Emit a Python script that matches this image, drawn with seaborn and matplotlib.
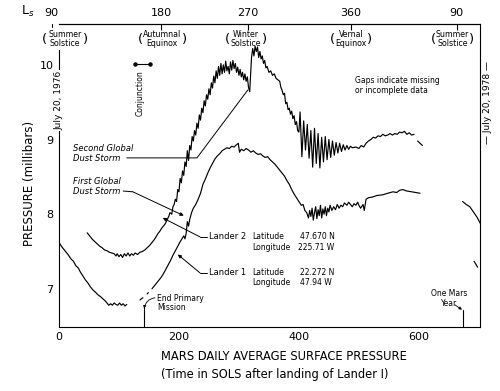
import numpy as np
import pandas as pd
import matplotlib
matplotlib.use("Agg")
import matplotlib.pyplot as plt
import matplotlib.transforms as mtransforms
import seaborn as sns

# ---------------------------------------------------------------
# Daily average pressure (mbar) vs sol after landing of Lander 1
# values
# ---------------------------------------------------------------
# Lander 1 - before the gap
l1_sol_a = [0, 5, 10, 15, 20, 24, 28, 32, 36, 40, 44, 48, 52, 56, 60, 65,
            70, 74, 77, 80, 83, 86, 89, 92, 95, 98, 101, 104, 107, 110, 113]
l1_p_a = [7.62, 7.56, 7.51, 7.46, 7.40, 7.37, 7.31, 7.28, 7.22, 7.17, 7.12,
          7.08, 7.03, 6.99, 6.96, 6.92, 6.89, 6.86, 6.84, 6.81, 6.78, 6.80,
          6.78, 6.81, 6.79, 6.78, 6.81, 6.78, 6.80, 6.77, 6.79]
# Lander 1 - sparse data after conjunction
l1_sol_b1 = [135, 138, 140]
l1_p_b1 = [6.85, 6.87, 6.88]
l1_sol_b2 = [147, 149]
l1_p_b2 = [6.93, 6.95]
# Lander 1 - main record
l1_sol_c = [155, 160, 165, 170, 174, 178, 182, 186, 190, 194,
            198, 202, 205, 208, 210, 212, 214, 216, 218, 221,
            224, 228, 232, 236, 240, 244, 248, 252, 256, 260,
            264, 268, 272, 276, 280, 284, 288, 292, 296, 299,
            301, 304, 308, 312, 316, 320, 324, 328, 332, 336,
            340, 344, 348, 352, 356, 360, 364, 368, 372, 376,
            380, 384, 388, 392, 396, 400, 404, 407, 410, 413,
            416, 418, 420, 422, 424, 426, 428, 430, 432, 434,
            436, 438, 440, 442, 444, 446, 448, 450, 452, 455,
            458, 461, 464, 467, 470, 473, 476, 480, 483, 486,
            489, 492, 495, 498, 500, 503, 507, 509, 512, 516,
            523, 530, 540, 548, 557, 563, 568, 573, 580, 588,
            595, 602]
l1_p_c = [7.00, 7.05, 7.10, 7.15, 7.20, 7.26, 7.32, 7.38, 7.45, 7.51,
          7.57, 7.63, 7.67, 7.71, 7.67, 7.74, 7.90, 7.84, 7.93, 8.02,
          8.08, 8.13, 8.20, 8.28, 8.40, 8.47, 8.55, 8.62, 8.68, 8.74,
          8.78, 8.81, 8.85, 8.87, 8.89, 8.88, 8.91, 8.90, 8.93, 8.95,
          8.83, 8.87, 8.85, 8.88, 8.86, 8.83, 8.85, 8.82, 8.80, 8.81,
          8.78, 8.76, 8.77, 8.73, 8.70, 8.67, 8.63, 8.59, 8.55, 8.51,
          8.45, 8.40, 8.33, 8.27, 8.22, 8.17, 8.12, 8.13, 8.05, 8.02,
          7.95, 8.05, 7.97, 8.08, 7.92, 8.02, 8.10, 7.94, 8.06, 7.98,
          8.12, 7.95, 8.07, 8.00, 8.10, 7.98, 8.08, 8.03, 8.12, 8.05,
          8.10, 8.06, 8.13, 8.08, 8.12, 8.10, 8.15, 8.12, 8.16, 8.13,
          8.10, 8.14, 8.12, 8.16, 8.12, 8.08, 8.13, 8.05, 8.20, 8.22,
          8.23, 8.25, 8.26, 8.28, 8.30, 8.29, 8.32, 8.33, 8.31, 8.30,
          8.29, 8.28]
# Lander 1 - second year
l1_sol_d = [692, 695, 698]
l1_p_d = [7.37, 7.33, 7.29]

# Lander 2 - main record, by phase
l2_sol_pre = [47, 52, 56, 60, 64, 68, 72, 76, 80, 84,
              88, 92, 95, 97, 100, 103, 106, 109, 112, 115,
              118, 121, 124, 127, 131, 135, 139, 143, 147, 151,
              155, 159, 162, 165, 168, 171, 174, 177, 180, 183]
l2_p_pre = [7.75, 7.70, 7.66, 7.63, 7.60, 7.57, 7.55, 7.52, 7.51, 7.49,
            7.48, 7.47, 7.44, 7.47, 7.43, 7.46, 7.42, 7.47, 7.44, 7.48,
            7.44, 7.47, 7.45, 7.48, 7.46, 7.49, 7.50, 7.52, 7.55, 7.58,
            7.62, 7.66, 7.70, 7.74, 7.77, 7.81, 7.84, 7.87, 7.92, 7.97]
l2_sol_rise = [185, 188, 190, 192, 194, 196, 198, 200, 202, 204,
               206, 208, 210, 212, 214, 216, 218, 220, 222, 224,
               226, 228, 230, 232, 234, 236, 238, 240, 242, 244,
               246, 248, 250, 252, 254, 256, 258, 260, 262, 264,
               266, 268, 270, 272, 274, 276, 278, 280, 282, 284,
               286, 288, 290, 292, 294, 296, 298, 300, 302, 304,
               306, 308, 310, 312, 314, 316, 318]
l2_p_rise = [8.02, 8.00, 8.10, 8.13, 8.20, 8.17, 8.33, 8.30, 8.48, 8.42,
             8.58, 8.52, 8.70, 8.64, 8.85, 8.72, 8.92, 8.86, 9.04, 8.98,
             9.12, 9.06, 9.22, 9.15, 9.33, 9.26, 9.42, 9.36, 9.52, 9.45,
             9.60, 9.54, 9.68, 9.60, 9.76, 9.69, 9.85, 9.76, 9.92, 9.82,
             9.98, 9.86, 10.02, 9.88, 10.00, 9.90, 10.05, 9.92, 9.98, 9.88,
             10.04, 9.93, 10.06, 9.95, 10.02, 9.90, 9.97, 9.86, 9.94, 9.84,
             9.90, 9.80, 9.88, 9.78, 9.84, 9.70, 9.64]
l2_sol_peak = [321, 323, 325, 327, 329, 331, 333, 335, 337, 339,
               341, 343, 345, 347, 350, 353, 356, 359, 362, 365,
               368, 370, 372, 374, 376, 378, 380, 382, 384, 386,
               388, 390, 392, 394, 396, 398]
l2_p_peak = [10.10, 10.22, 10.12, 10.25, 10.18, 10.24, 10.10, 10.18, 10.08, 10.12,
             10.02, 10.06, 9.96, 9.98, 9.90, 9.92, 9.86, 9.88, 9.82, 9.80,
             9.78, 9.70, 9.66, 9.60, 9.62, 9.48, 9.50, 9.40, 9.42, 9.34,
             9.38, 9.28, 9.32, 9.20, 9.24, 9.12]
l2_sol_osc = [400, 402, 405, 408, 411, 414, 417, 420, 423, 426,
              429, 432, 435, 438, 441, 444, 447, 450, 453, 456,
              459, 462, 465, 468, 471, 474, 477, 480, 483, 486,
              489]
l2_p_osc = [9.10, 9.37, 8.77, 9.25, 8.86, 9.20, 8.75, 9.12, 8.63, 9.15,
            8.68, 9.08, 8.62, 9.03, 8.70, 9.04, 8.73, 9.00, 8.76, 8.98,
            8.79, 8.96, 8.82, 8.95, 8.84, 8.93, 8.86, 8.92, 8.87, 8.91,
            8.89]
l2_sol_late = [495, 500, 504, 508, 512, 516, 520, 524, 528, 532,
               536, 540, 544, 548, 552, 556, 560, 564, 568, 572,
               576, 580, 584, 588, 592]
l2_p_late = [8.90, 8.88, 8.92, 8.90, 8.95, 8.98, 9.00, 9.03, 9.02, 9.05,
             9.04, 9.07, 9.05, 9.06, 9.08, 9.06, 9.08, 9.07, 9.10, 9.09,
             9.11, 9.07, 9.09, 9.06, 9.07]
l2_sol_b = [598, 602, 606]
l2_p_b = [8.98, 8.95, 8.92]
l2_sol_c = [673, 679, 685, 691, 697, 703]
l2_p_c = [8.17, 8.13, 8.10, 8.03, 7.96, 7.87]

# ---------------------------------------------------------------
# tidy table, one id per unbroken piece of record
# ---------------------------------------------------------------
pieces = {
    "L1a": (l1_sol_a, l1_p_a),
    "L1b1": (l1_sol_b1, l1_p_b1),
    "L1b2": (l1_sol_b2, l1_p_b2),
    "L1c": (l1_sol_c, l1_p_c),
    "L1d": (l1_sol_d, l1_p_d),
    "L2a": (l2_sol_pre + l2_sol_rise + l2_sol_peak + l2_sol_osc + l2_sol_late,
            l2_p_pre + l2_p_rise + l2_p_peak + l2_p_osc + l2_p_late),
    "L2b": (l2_sol_b, l2_p_b),
    "L2c": (l2_sol_c, l2_p_c),
}
frames = []
for key, (s, p) in pieces.items():
    assert len(s) == len(p), key
    frames.append(pd.DataFrame({"sol": s, "pressure": p, "segment": key}))
df = pd.concat(frames, ignore_index=True)

# ---------------------------------------------------------------
# figure
# ---------------------------------------------------------------
sns.set_style("white")
plt.rcParams["font.family"] = ["DejaVu Sans"]
plt.rcParams["text.color"] = "black"
plt.rcParams["xtick.color"] = "black"
plt.rcParams["ytick.color"] = "black"
plt.rcParams["axes.labelcolor"] = "black"

fig = plt.figure(figsize=(5.0, 3.91), dpi=100)
ax = fig.add_axes([0.118, 0.164, 0.842, 0.775])

sns.lineplot(data=df, x="sol", y="pressure", units="segment", estimator=None,
             sort=False, color="black", linewidth=0.85, ax=ax, legend=False)

ax.set_xlim(0, 702)
ax.set_ylim(6.49, 10.55)
ax.set_xlabel("")
ax.set_ylabel("")

ax.set_xticks([0, 200, 400, 600])
ax.set_xticks([100, 300, 500], minor=True)
ax.set_yticks([7, 8, 9, 10])
ax.set_yticks([7.5, 8.5, 9.5], minor=True)
ax.tick_params(which="both", direction="in", width=0.8, color="black", labelcolor="black")
ax.tick_params(axis="x", which="both", length=9.5, labelsize=8, pad=4)
ax.tick_params(axis="y", which="both", length=8.5, labelsize=8, pad=4)
ax.tick_params(top=False, right=False)

for sp in ax.spines.values():
    sp.set_linewidth(0.8)
    sp.set_color("black")
ax.spines["left"].set_bounds(6.49, 10.2)
ax.spines["right"].set_linestyle((0, (3, 1)))

# Ls scale along the top
ls_ax = ax.secondary_xaxis("top")
ls_ax.set_xticks([170, 315, 487, 663], labels=["180", "270", "360", "90"])
ls_ax.tick_params(direction="in", length=4, width=0.8, labelsize=8, pad=4,
                  color="black", labelcolor="black")
ls_ax.spines["top"].set_linestyle((0, (5, 1)))
ls_ax.spines["top"].set_linewidth(0.8)
ls_ax.spines["top"].set_color("black")

top_tr = mtransforms.blended_transform_factory(ax.transData, ax.transAxes)
ax.text(-12, 1.036, "90", transform=top_tr, ha="center", va="center", fontsize=8)
ax.plot([-12, -12], [1.0, 0.99], transform=top_tr, color="black", lw=0.8, clip_on=False)
ax.text(-0.075, 1.04, "L$_s$", transform=ax.transAxes, ha="center", va="center", fontsize=9)

seasons = [(10, "Summer\nSolstice", 14.8), (172, "Autumnal\nEquinox", 15.8),
           (312, "Winter\nSolstice", 13.3), (487.5, "Vernal\nEquinox", 13.3),
           (656, "Summer\nSolstice", 14.0)]
for xs, name, hw in seasons:
    ax.text(xs, 0.95, name, transform=top_tr, ha="center", va="center",
            fontsize=5.7, linespacing=1.0)
    for sign, par in ((-1, "("), (1, ")")):
        ax.annotate(par, xy=(xs, 0.95), xycoords=top_tr, xytext=(sign * hw, 0),
                    textcoords="offset points", ha="center", va="center", fontsize=9.5)

# dates on the frame
ax.text(0, 9.52, "July 20, 1976", rotation=90, ha="center", va="center", fontsize=6.5,
        bbox=dict(fc="white", ec="none", pad=0.6), zorder=5)
ax.text(1.017, 0.74, "\u2014 July 20, 1978 \u2014", transform=ax.transAxes, rotation=90,
        ha="center", va="center", fontsize=6.5)

# conjunction
ax.plot([127, 152], [10.01, 10.01], color="black", lw=0.8, marker="o", ms=2.2)
ax.text(135, 9.62, "Conjunction", rotation=90, ha="center", va="center", fontsize=5.5)

ax.text(493, 9.72, "Gaps indicate missing\nor incomplete data", ha="left", va="center",
        fontsize=5.5)

# dust storm callouts
ax.text(23, 8.81, "Second Global\nDust Storm", ha="left", va="center", fontsize=6,
        fontstyle="italic")
ax.plot([113, 230, 315], [8.754, 8.754, 9.665], color="black", lw=0.7)
ax.text(23, 8.37, "First Global\nDust Storm", ha="left", va="center", fontsize=6,
        fontstyle="italic")
ax.plot([107, 123], [8.31, 8.30], color="black", lw=0.7)
arrow = dict(arrowstyle="-|>", lw=0.7, color="black", mutation_scale=5, shrinkA=0, shrinkB=0)
ax.annotate("", xy=(208, 7.98), xytext=(123, 8.30), arrowprops=arrow)

# lander callouts
ax.plot([235, 247], [7.696, 7.696], color="black", lw=0.7)
ax.annotate("", xy=(173, 7.95), xytext=(235, 7.696), arrowprops=arrow)
ax.text(250, 7.696, "Lander 2", ha="left", va="center", fontsize=6)
ax.text(323, 7.696, "Latitude", ha="left", va="center", fontsize=5.5)
ax.text(402, 7.696, "47.670 N", ha="left", va="center", fontsize=5.5)
ax.text(323, 7.56, "Longitude", ha="left", va="center", fontsize=5.5)
ax.text(398, 7.56, "225.71 W", ha="left", va="center", fontsize=5.5)

ax.plot([235, 247], [7.214, 7.214], color="black", lw=0.7)
ax.annotate("", xy=(198, 7.46), xytext=(235, 7.214), arrowprops=arrow)
ax.text(250, 7.214, "Lander 1", ha="left", va="center", fontsize=6)
ax.text(323, 7.214, "Latitude", ha="left", va="center", fontsize=5.5)
ax.text(402, 7.214, "22.272 N", ha="left", va="center", fontsize=5.5)
ax.text(323, 7.09, "Longitude", ha="left", va="center", fontsize=5.5)
ax.text(402, 7.09, "47.94 W", ha="left", va="center", fontsize=5.5)

# mission markers on the time axis
ax.axvline(142, ymin=0, ymax=20 / 303, color="black", lw=0.8)
ax.text(163, 6.81, "End Primary\nMission", ha="left", va="center", fontsize=5.5,
        linespacing=1.0)
ax.annotate("", xy=(142, 6.735), xytext=(160, 6.88),
            arrowprops=dict(arrowstyle="-|>", lw=0.6, color="black", mutation_scale=4,
                            shrinkA=0, shrinkB=0, connectionstyle="arc3,rad=0.35"))
ax.axvline(673, ymin=0, ymax=17 / 303, color="black", lw=0.8)
ax.text(650, 6.87, "One Mars\nYear", ha="center", va="center", fontsize=5.5,
        linespacing=1.1)
ax.annotate("", xy=(672, 6.72), xytext=(660, 6.786), arrowprops=dict(
    arrowstyle="-|>", lw=0.6, color="black", mutation_scale=4, shrinkA=0, shrinkB=0))

# axis titles
ax.text(-0.069, 0.475, "PRESSURE (millibars)", transform=ax.transAxes, rotation=90,
        ha="center", va="center", fontsize=8.5)
ax.text(0.242, -0.099, "MARS DAILY AVERAGE SURFACE PRESSURE", transform=ax.transAxes,
        ha="left", va="center", fontsize=8.3)
ax.text(0.242, -0.158, "(Time in SOLS after landing of Lander I)", transform=ax.transAxes,
        ha="left", va="center", fontsize=8.3)

fig.savefig("out.png", dpi=100, facecolor="white")
